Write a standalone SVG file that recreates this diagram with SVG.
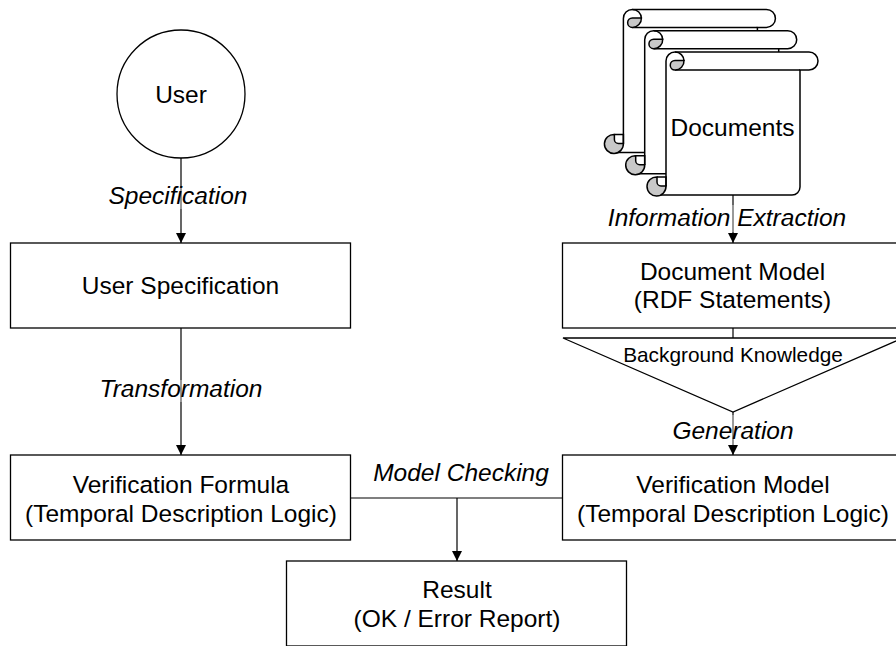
<svg xmlns="http://www.w3.org/2000/svg" xmlns:xlink="http://www.w3.org/1999/xlink" width="896" height="646" viewBox="0 0 896 646">
<style>
text{font-family:"Liberation Sans",Arial,sans-serif;font-size:24.500px;fill:#000;text-anchor:middle}
.l{font-style:italic}
.b{fill:#fff;stroke:#000;stroke-width:1.3}
.s{fill:#fff;stroke:#000;stroke-width:1.5}
.c{fill:none;stroke:#000;stroke-width:1.2}
.h{fill:none;stroke:#bbb;stroke-width:1.2}
.g{fill:#c8c8c8;stroke:#000;stroke-width:1.5}
.n{fill:none;stroke:#000;stroke-width:1.5}
</style>
<defs>
<marker id="a" markerUnits="userSpaceOnUse" markerWidth="11" markerHeight="10" refX="10" refY="5" orient="auto"><path d="M0,0L10,5L0,10z" fill="#000"/></marker>
<g id="scroll">
<path class="s" d="M666,186V61A9,9 0 0 1 675,52H809A9,9 0 0 1 809,70H800V187A8,8 0 0 1 792,195H657L666,186Z"/>
<path class="n" d="M675,70H800M675,52A9,9 0 0 1 684,61"/>
<path class="g" d="M675,60.500H684A9,9 0 0 1 675,70A4.750,4.750 0 0 1 675,60.500Z"/>
<path class="g" d="M657,177A9.500,9.500 0 1 0 666,186H661A4,4 0 0 1 657,182Z"/>
<path class="n" d="M657,177H666V186"/>
</g>
</defs>
<g id="connectors">
<path class="c" marker-end="url(#a)" d="M181,158V243"/>
<path class="c" marker-end="url(#a)" d="M181,328V455"/>
<path class="c" marker-end="url(#a)" d="M733,195V243"/>
<path class="c" d="M733,328V338"/>
<path class="c" marker-end="url(#a)" d="M733,412V455"/>
<path class="c" d="M351,498H563"/>
<path class="c" marker-end="url(#a)" d="M457,498V561"/>
<path class="h" d="M181,187V209M733,205V232M733,415V445M181,380V402"/>
</g>
<g id="user"><circle class="b" cx="181" cy="94" r="64"/><text x="181" y="103">User</text></g>
<g id="documents-3"><use xlink:href="#scroll" transform="translate(-42.600,-42.600)"/></g>
<g id="documents-2"><use xlink:href="#scroll" transform="translate(-21.300,-21.300)"/></g>
<g id="documents-1"><use xlink:href="#scroll"/><text x="732.500" y="136">Documents</text></g>
<g id="user-specification"><rect class="b" x="10.500" y="243" width="340" height="85"/><text x="180.500" y="294">User Specification</text></g>
<g id="document-model"><rect class="b" x="562.500" y="243" width="340" height="85"/><text x="732.500" y="280">Document Model</text><text x="732.500" y="308">(RDF Statements)</text></g>
<g id="background-knowledge"><path class="b" d="M563,338H903L733,412Z"/><text x="733" y="362" style="font-size:20.800px">Background Knowledge</text></g>
<g id="verification-formula"><rect class="b" x="10.500" y="455" width="340" height="85"/><text x="181" y="493">Verification Formula</text><text x="181" y="522">(Temporal Description Logic)</text></g>
<g id="verification-model"><rect class="b" x="562.500" y="455" width="340" height="85"/><text x="733" y="493">Verification Model</text><text x="733" y="522">(Temporal Description Logic)</text></g>
<g id="result"><rect class="b" x="286.500" y="561" width="340" height="85"/><text x="457" y="598">Result</text><text x="457" y="627">(OK / Error Report)</text></g>
<g id="labels">
<text class="l" x="178" y="204">Specification</text>
<text class="l" x="181" y="397">Transformation</text>
<text class="l" x="727" y="226">Information Extraction</text>
<text class="l" x="733" y="439">Generation</text>
<text class="l" x="461" y="481">Model Checking</text>
</g>
</svg>
